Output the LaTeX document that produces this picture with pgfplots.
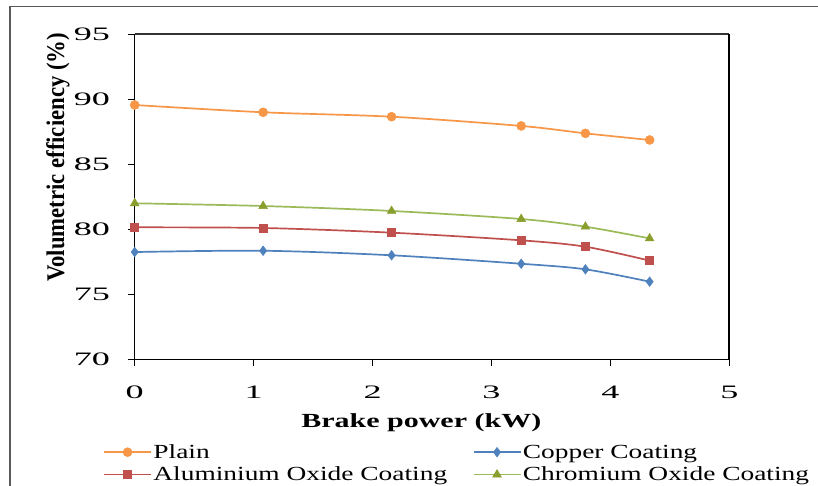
\documentclass[border=0pt]{standalone}
\usepackage{fontspec}
\setmainfont{Liberation Serif}
\usepackage{graphicx}
\usepackage{pgfplots}
\pgfplotsset{compat=1.18}
\definecolor{cPlain}{HTML}{F79646}
\definecolor{cCopper}{HTML}{4F81BD}
\definecolor{cAlu}{HTML}{C0504D}
\definecolor{cChrom}{HTML}{9BBB59}
\definecolor{cChromM}{HTML}{8A9E2E}
\newcommand{\tickf}{\fontsize{19bp}{22bp}\selectfont}
\newcommand{\legf}{\fontsize{20bp}{22bp}\selectfont}
\begin{document}
\begin{tikzpicture}[x=1bp,y=1bp]
\useasboundingbox (0,0) rectangle (818,486);
\fill[white] (0,0) rectangle (818,486);
\draw[black!65, line width=1.6bp] (10,0) -- (10,479.3) -- (818,479.3);
\begin{axis}[
  at={(134.7bp,126.7bp)}, anchor=south west,
  scale only axis, width=594.6bp, height=325bp,
  xmin=0, xmax=5, ymin=70, ymax=95,
  xtick={0,1,2,3,4,5}, ytick={70,75,80,85,90,95},
  minor tick num=0,
  tick align=outside, major tick length=6.5bp,
  tick style={black, line width=1bp},
  xtick pos=bottom, ytick pos=left,
  axis line style={black, line width=1.5bp},
  clip=false,
  xticklabel={\tickf\scalebox{1.9}[1]{\pgfmathprintnumber[assume math mode=true]{\tick}}},
  yticklabel={\tickf\scalebox{1.9}[1]{\pgfmathprintnumber[assume math mode=true]{\tick}}},
  xticklabel style={anchor=base, inner sep=0pt, yshift=-33bp},
  yticklabel style={anchor=east, inner sep=0pt, xshift=-18bp},
  xlabel={\fontsize{20bp}{24bp}\selectfont\bfseries\scalebox{1.5}[1]{Brake power (kW)}},
  ylabel={\fontsize{22.7bp}{26bp}\selectfont\bfseries\scalebox{1}[1.12]{Volumetric efficiency (\%)}},
  xlabel style={at={(axis description cs:0.482,-0.196)}, anchor=center, inner sep=0pt},
  ylabel style={at={(axis description cs:-0.129,0.621)}, anchor=center, inner sep=0pt},
  legend columns=2,
  legend cell align=left,
  legend style={at={(axis description cs:-0.0533,-0.257)}, anchor=north west,
    draw=none, fill=none, inner sep=0pt, row sep=4bp,
    font=\legf,
    nodes={inner sep=1.5bp},
    /tikz/every even column/.append style={column sep=24bp}},
  legend image code/.code={\draw[mark repeat=2,mark phase=2,#1] plot coordinates {(0bp,0bp) (23.5bp,0bp) (47bp,0bp)};},
  every axis plot/.append style={line width=1.7bp, smooth, tension=0.5},
]
\addplot[color=cPlain, mark=*, mark size=4.5bp, mark options={fill=cPlain, draw=cPlain, line width=0.5bp}]
  coordinates {(0,89.56) (1.08,89.0) (2.16,88.66) (3.25,87.95) (3.79,87.38) (4.33,86.87)};
\addlegendentry{\scalebox{1.37}[1]{Plain}}
\addplot[color=cCopper, mark=diamond*, mark size=4.8bp, mark options={fill=cCopper, draw=cCopper, line width=0.5bp}]
  coordinates {(0,78.25) (1.08,78.35) (2.16,78.0) (3.25,77.35) (3.79,76.92) (4.33,75.97)};
\addlegendentry{\scalebox{1.37}[1]{Copper Coating}}
\addplot[color=cAlu, mark=square*, mark size=4bp, mark options={fill=cAlu, draw=cAlu, line width=0.5bp}]
  coordinates {(0,80.15) (1.08,80.1) (2.16,79.74) (3.25,79.15) (3.79,78.66) (4.33,77.59)};
\addlegendentry{\scalebox{1.37}[1]{Aluminium Oxide Coating}}
\addplot[color=cChrom, mark=triangle*, mark size=5bp, mark options={fill=cChromM, draw=cChromM, line width=0.5bp}]
  coordinates {(0,82.0) (1.08,81.79) (2.16,81.41) (3.25,80.79) (3.79,80.2) (4.33,79.3)};
\addlegendentry{\scalebox{1.37}[1]{Chromium Oxide Coating}}
\end{axis}
\draw[black!80, line width=1.8bp] (134.7,451.7) -- (729.3,451.7);
\draw[black, line width=2bp] (729.3,451.7) -- (729.3,126.7);
\end{tikzpicture}
\end{document}
